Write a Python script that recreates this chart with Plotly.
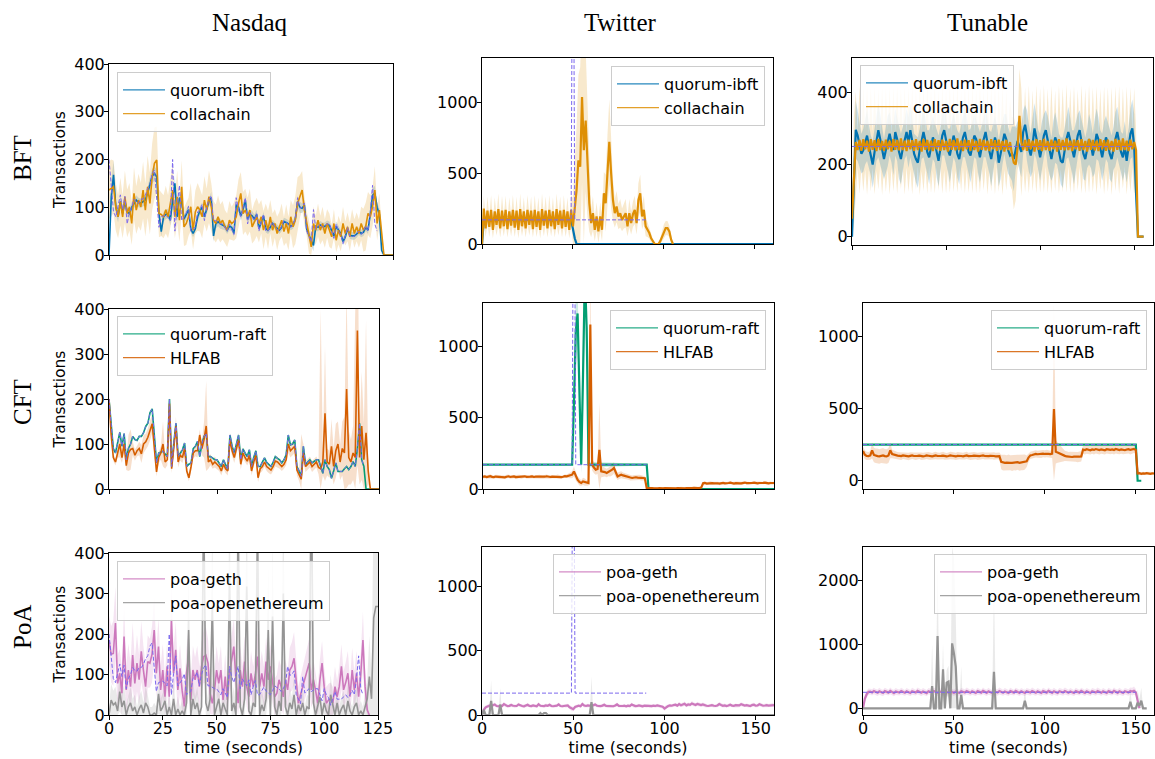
import plotly.graph_objects as go

W, H = 1155, 759

# ======================= DATA =======================
# ---- Nasdaq workload (sent rate, dashed) t = 0..118 s
nasdaq_workload = [200,140,90,80,105,126,95,123,65,90,
                   100,117,110,108,117,117,125,139,146,170,
                   178,120,58,80,82,84,78,72,200,50,
                   102,146,72,80,87,102,50,55,58,90,
                   95,106,72,100,117,124,72,72,68,65,
                   65,58,50,65,55,43,120,95,80,100,
                   120,65,89,80,72,87,50,70,85,50,
                   50,60,69,59,55,50,60,72,68,65,
                   58,65,76,120,98,100,109,50,40,28,
                   95,54,60,65,58,62,65,65,50,35,
                   65,50,43,24,40,58,39,39,39,45,
                   50,43,50,61,50,90,146,65,50]

# ---- Nasdaq BFT
nasdaq_ibft = [0,122,168,101,80,112,87,112,90,87,
               100,108,115,110,108,112,115,130,150,165,
               171,164,87,49,80,85,87,73,115,150,
               80,120,110,75,85,95,55,45,55,80,
               92,100,80,95,112,120,40,65,70,65,
               62,60,52,60,58,45,105,100,82,95,
               115,75,85,82,75,85,55,68,82,55,
               52,58,66,60,56,52,58,70,68,65,
               60,63,75,112,100,98,105,55,42,30,
               20,60,58,63,60,60,64,62,52,40,
               60,52,45,28,38,55,42,40,40,44,
               50,45,48,58,52,85,125,130,100,85,
               10,0,0,0,0,0]
nasdaq_ibft_sd = [5,30,30,15,12,12,10,12,10,10,
                  10,10,10,10,10,10,12,12,15,15,
                  15,15,12,10,10,10,10,10,12,15,
                  10,12,10,10,10,10,8,8,8,10,
                  10,10,10,10,10,12,12,10,10,10,
                  8,8,8,8,8,8,10,10,10,10,
                  10,10,10,10,10,10,8,8,8,8,
                  8,8,8,8,8,8,8,8,8,8,
                  8,8,10,12,12,10,10,10,10,10,
                  12,10,8,8,8,8,8,8,8,8,
                  10,8,8,8,8,8,8,8,8,8,
                  8,8,8,8,8,10,15,15,12,12,
                  8,0,0,0,0,0]
nasdaq_colla = [136,140,143,101,80,112,80,122,87,101,
                66,129,94,115,101,136,94,143,108,164,
                192,199,87,85,80,95,80,108,136,80,
                122,73,143,59,66,80,101,52,90,101,
                94,80,115,94,122,101,73,66,80,66,
                73,59,52,73,66,70,80,108,129,87,
                94,80,94,59,70,80,66,80,52,73,
                52,80,52,66,45,60,73,49,66,45,
                80,59,73,108,122,136,94,66,38,17,
                66,52,73,52,66,45,66,52,38,66,
                31,52,38,66,45,59,38,66,45,59,
                45,66,52,60,87,80,101,136,66,94,
                38,0,0,0,0,0]
nasdaq_colla_sd = [60,60,55,50,45,50,45,55,50,50,
                   45,55,50,55,50,60,55,65,65,70,
                   75,70,50,45,45,50,45,50,55,45,
                   55,45,55,40,45,40,50,40,45,50,
                   45,45,50,45,55,50,40,40,45,40,
                   40,35,35,40,35,40,45,50,45,45,
                   45,40,45,35,40,40,40,35,40,35,
                   40,35,35,30,35,30,35,30,40,35,
                   35,45,50,55,45,40,30,25,35,30,
                   35,30,35,30,35,30,30,35,25,30,
                   25,30,30,35,25,30,30,30,30,30,
                   30,35,45,50,45,45,40,50,35,35,
                   20,5,0,0,0,0]

# ---- Nasdaq CFT
nasdaq_raft = [200,140,90,80,105,126,95,123,65,90,
               100,117,110,108,117,117,125,139,146,170,
               178,120,58,80,82,84,78,72,200,50,
               102,146,72,80,87,102,50,55,58,90,
               95,106,72,100,117,124,72,72,68,65,
               65,58,50,65,55,43,120,95,80,100,
               120,65,89,80,72,87,50,70,85,50,
               50,60,69,59,55,50,60,72,68,65,
               58,65,76,120,98,100,109,50,40,28,
               95,54,60,65,58,62,65,65,50,35,
               65,50,43,24,40,58,39,39,39,45,
               50,43,50,61,50,90,146,65,50,0,
               0,0,0,0,0,0]
nasdaq_hlfab = [200,120,70,60,80,100,70,100,52,80,
                88,90,75,85,90,78,100,105,115,130,
                145,90,38,70,80,100,60,65,190,45,
                90,140,60,75,70,90,40,25,50,80,
                85,85,120,90,110,140,60,65,55,60,
                55,50,40,55,45,40,110,85,70,90,
                110,55,80,70,62,75,40,60,75,25,
                45,50,60,50,45,42,50,62,60,55,
                50,55,65,100,85,90,95,42,30,22,
                80,50,55,60,50,55,60,48,45,60,
                168,60,55,95,50,85,100,60,90,80,
                222,70,60,80,70,352,70,140,65,125,
                40,0,0,0,0,0]
nasdaq_hlfab_sd = [10,10,8,8,10,30,12,20,10,40,
                   45,15,12,12,15,20,20,18,20,22,
                   20,15,10,12,15,50,15,12,15,10,
                   15,20,12,12,12,15,10,8,10,12,
                   12,15,12,15,40,100,15,12,10,12,
                   10,10,10,10,10,10,15,12,12,12,
                   15,12,12,10,10,12,10,10,12,10,
                   10,10,10,10,10,10,10,12,12,10,
                   10,10,12,20,15,15,15,12,12,100,
                   20,12,12,12,12,12,12,15,355,30,
                   150,30,30,60,40,60,50,40,60,80,
                   220,60,50,60,330,300,60,120,80,250,
                   30,0,0,0,0,0]

# ---- Nasdaq PoA
nasdaq_geth = [185,150,152,227,78,103,54,194,62,111,
               70,148,78,128,87,157,110,70,132,128,
               150,210,103,169,62,111,45,120,45,235,
               103,161,62,115,60,21,103,144,37,111,
               87,111,70,120,144,148,128,54,29,60,
               111,78,111,37,95,37,103,140,169,87,
               29,111,70,132,70,45,103,70,100,144,
               70,103,70,132,87,120,80,45,54,87,
               70,45,87,62,111,120,140,87,29,50,
               70,87,111,128,62,87,60,29,87,128,
               70,29,37,40,29,70,45,70,120,62,
               80,103,45,111,62,103,45,100,185,70,
               12,0]
nasdaq_geth_sd = [60,70,80,90,70,60,60,80,60,65,
                  60,80,60,70,60,75,60,55,65,60,
                  70,80,60,70,60,65,55,60,55,90,
                  60,70,55,60,50,45,60,70,50,60,
                  55,60,50,60,65,70,60,50,45,50,
                  60,50,60,45,55,45,55,65,70,55,
                  45,60,50,65,50,45,55,50,55,65,
                  50,55,50,60,50,55,50,45,45,50,
                  50,45,50,45,55,60,65,50,40,45,
                  50,50,55,60,45,50,45,40,50,55,
                  45,40,40,40,40,50,40,50,55,45,
                  50,55,40,55,45,55,40,55,70,45,
                  20,0]
nasdaq_oe = [0,37,25,30,10,58,20,35,0,20,
             30,10,20,0,15,25,5,30,20,0,
             0,5,0,52,10,20,35,0,20,0,
             40,0,15,0,10,0,30,210,0,40,
             15,30,0,20,520,30,10,40,268,0,
             20,40,0,30,15,0,342,10,30,0,
             480,20,0,40,317,10,0,30,20,470,
             0,25,10,40,210,0,243,20,0,35,
             10,300,20,0,30,15,50,0,25,10,
             30,0,20,15,600,30,0,20,45,0,
             30,10,0,50,20,0,30,0,15,25,
             0,35,10,0,20,30,0,10,0,20,
             40,95,40,240,268,268]
nasdaq_oe_sd = [20,40,35,40,30,50,35,40,25,30,
                40,30,30,20,30,35,25,40,30,20,
                20,25,20,50,30,35,40,20,30,20,
                45,20,30,20,25,20,40,150,30,45,
                30,40,20,30,400,40,30,50,200,20,
                30,45,20,40,30,20,250,30,40,20,
                400,30,20,45,230,25,20,40,30,400,
                20,35,25,45,160,20,180,30,20,40,
                25,250,30,20,40,30,50,20,35,25,
                40,20,30,30,500,40,20,30,50,20,
                40,25,20,50,30,20,40,20,30,35,
                20,45,25,20,30,40,20,25,20,30,
                50,100,60,300,300,300]

# ---- Twitter workload (breakpoints)
twitter_wl_t = [0, 49, 50, 51, 90]
twitter_wl_v = [170, 170, 3000, 170, 170]

# ---- Twitter BFT
twitter_ibft_t = [0, 1, 49, 50, 51, 52, 160]
twitter_ibft_v = [0, 170, 170, 100, 40, 0, 0]
twitter_colla = [0,250,110,235,120,240,100,230,135,245,
                 110,235,125,240,105,230,130,240,115,235,
                 100,245,125,230,110,240,135,235,105,240,
                 120,230,100,245,130,235,110,240,125,230,
                 105,245,135,235,110,240,120,230,100,240,
                 124,250,380,590,545,1035,660,870,590,287,
                 147,217,100,194,89,194,100,357,287,521,
                 720,498,310,217,264,194,217,170,200,217,
                 124,217,147,210,240,147,310,357,194,240,
                 124,100,77,40,19,0,0,0,20,54,
                 89,112,112,89,30,0]
twitter_colla_sd = [0,90,60,100,70,105,60,100,75,110,
                    65,105,70,100,60,100,75,105,65,100,
                    60,110,70,100,65,105,75,100,60,105,
                    70,100,60,110,75,100,65,105,70,100,
                    60,110,75,100,65,105,70,100,60,105,
                    200,300,450,600,700,600,700,500,400,200,
                    100,120,80,100,80,100,80,150,200,250,
                    300,250,150,100,110,90,100,80,90,100,
                    70,100,80,90,100,80,120,130,90,100,
                    70,50,40,30,15,0,0,0,20,40,
                    50,50,50,40,20,0]

# ---- Twitter CFT
twitter_raft_t = [0, 49, 50, 51, 52, 53, 54, 55, 56, 57, 58, 90, 91, 160]
twitter_raft_v = [170, 170, 600, 1100, 1228, 600, 170, 800, 1500, 1130, 170, 170, 0, 0]
twitter_raft_sd = [5, 5, 150, 300, 200, 200, 60, 300, 300, 200, 20, 5, 0, 0]
twitter_hlfab = [85,88,84,86,90,85,83,87,86,84,
                 88,85,82,86,89,84,86,88,83,85,
                 87,84,86,89,85,83,86,88,84,86,
                 85,88,84,82,86,89,85,84,87,86,
                 84,88,85,83,86,90,88,92,95,100,
                 123,90,65,50,42,53,48,42,42,1150,
                 170,150,135,140,274,123,123,118,112,120,
                 123,135,147,110,88,95,100,95,90,88,
                 85,80,77,80,82,80,81,78,77,75,
                 7,5,4,6,5,3,5,6,4,5,
                 6,5,4,5,7,5,4,6,5,8,
                 6,5,7,5,4,6,8,5,6,7,
                 10,40,42,38,40,43,41,39,42,40,
                 38,41,43,40,39,42,44,40,38,41,
                 43,40,39,42,45,41,40,38,42,44,
                 41,39,42,40,43,45,41,39,42,40,
                 42]
twitter_hlfab_sd = [12,12,11,12,13,12,11,12,12,13,
                    12,11,12,13,12,12,11,12,13,12,
                    12,13,12,11,12,12,13,12,11,12,
                    13,12,12,11,12,13,12,12,11,12,
                    12,13,12,12,11,12,13,15,20,25,
                    35,30,25,25,20,25,25,20,20,400,
                    40,40,35,35,330,40,35,30,30,30,
                    35,40,40,30,25,25,25,20,20,20,
                    20,20,18,18,18,18,18,18,18,15,
                    8,8,7,8,9,8,7,8,8,9,
                    8,7,8,9,8,8,7,8,9,8,
                    8,9,8,7,8,8,9,8,7,8,
                    10,11,10,9,10,11,10,10,9,10,
                    11,10,9,10,10,11,10,9,10,11,
                    10,10,11,10,9,10,11,10,10,9,
                    10,11,10,10,9,10,11,10,10,9,
                    10]

# ---- Twitter PoA
twitter_geth = [0,40,60,68,72,70,75,82,70,68,
                72,70,85,74,69,71,78,72,68,70,
                82,73,70,68,72,80,71,69,74,70,
                68,84,72,70,69,75,72,80,70,68,
                71,73,82,70,68,72,70,74,60,50,
                45,62,70,72,68,85,73,70,74,72,
                70,75,82,72,70,69,73,80,71,70,
                72,70,68,74,82,71,69,70,72,68,
                73,70,82,72,69,70,74,71,68,72,
                70,73,71,69,72,70,74,71,68,65,
                50,62,70,74,72,78,80,73,85,76,
                80,88,75,82,79,90,84,78,86,80,
                77,82,75,72,70,73,76,72,70,74,
                85,78,72,75,70,74,80,73,71,76,
                72,74,84,78,73,76,72,70,78,80,
                72,74,83,76,72,74,77,73,75,78,
                76]
twitter_geth_sd = [5,20,15,14,13,12,14,16,12,13,
                   12,13,16,14,12,13,15,12,13,12,
                   16,13,12,13,12,15,12,13,14,12,
                   13,16,12,13,12,14,12,15,12,13,
                   12,13,16,12,13,12,13,14,15,18,
                   18,15,13,12,13,16,14,12,13,12,
                   13,14,16,12,13,12,13,15,12,13,
                   12,13,12,14,16,12,13,12,13,12,
                   14,12,16,13,12,13,14,12,13,12,
                   13,14,12,13,12,13,14,12,13,14,
                   18,15,13,14,12,15,16,13,17,14,
                   15,17,14,16,15,18,16,14,17,15,
                   14,16,14,13,12,13,14,13,12,14,
                   16,15,13,14,12,14,15,13,12,14,
                   13,14,16,15,13,14,13,12,15,15,
                   13,14,16,14,13,14,15,13,14,15,
                   14]
twitter_oe_t = [0,1,2,4,5,6,9,10,11,31,32,33,34,35,36,59,60,61,160]
twitter_oe_v = [0,40,0,0,110,0,0,80,0,0,15,0,15,15,0,0,100,0,0]
twitter_oe_sd = [0,30,0,0,160,0,0,130,0,0,10,0,10,10,0,0,200,0,0]

# ---- Tunable workload (breakpoints)
tunable_wl_t = [0, 150]
tunable_wl_v = [250, 250]

# ---- Tunable BFT
tunable_ibft = [0,150,296,280,255,230,240,265,280,250,
                225,200,235,270,295,270,240,215,240,265,
                285,260,240,290,270,235,215,245,270,290,
                260,295,265,230,215,205,240,270,290,265,
                235,220,250,275,260,230,210,245,280,295,
                265,240,225,255,280,260,230,215,250,275,
                290,265,235,225,255,280,270,240,220,250,
                275,290,260,235,215,245,275,255,205,230,
                260,285,270,240,225,230,215,245,265,250,
                235,290,310,280,245,225,255,300,275,240,
                220,250,280,295,265,235,215,245,275,260,
                230,210,205,240,270,290,265,235,220,250,
                280,295,260,230,215,245,270,255,225,250,
                285,270,240,220,250,275,260,230,215,245,
                270,290,260,235,220,250,210,245,285,300,
                250,120,0,0,0,0]
tunable_ibft_sd = [20,90,80,70,60,55,60,65,70,60,
                   55,65,70,60,75,70,60,55,65,70,
                   60,55,70,65,60,75,70,60,55,65,
                   70,75,60,55,65,70,60,55,70,65,
                   60,75,70,60,55,65,70,60,55,70,
                   65,60,75,70,60,55,65,70,60,55,
                   70,65,60,75,70,60,55,65,70,60,
                   55,70,65,60,75,70,60,55,65,70,
                   60,55,70,65,60,75,90,60,55,65,
                   70,60,55,70,65,60,75,70,60,55,
                   65,70,60,55,70,65,60,75,70,60,
                   55,65,70,60,55,70,65,60,75,70,
                   60,55,65,70,60,55,70,65,60,75,
                   70,60,55,65,70,60,55,70,65,60,
                   75,70,60,55,65,70,60,55,70,80,
                   90,40,0,0,0,0]
tunable_colla = [50,180,262,240,268,238,270,242,266,236,
                 270,241,267,237,271,240,265,238,269,242,
                 266,236,270,241,268,239,272,240,266,237,
                 269,242,267,238,270,240,265,236,271,241,
                 268,239,266,237,270,242,267,238,269,240,
                 265,236,271,241,268,239,272,240,266,237,
                 269,242,267,238,270,240,265,236,271,241,
                 268,239,266,237,270,242,267,238,269,240,
                 265,236,268,240,262,230,205,200,245,335,
                 262,240,268,238,270,242,266,236,270,241,
                 267,237,271,240,265,238,269,242,266,236,
                 270,241,268,239,272,240,266,237,269,242,
                 267,238,270,240,265,236,271,241,268,239,
                 266,237,270,242,267,238,269,240,265,236,
                 271,241,268,239,272,240,266,237,269,242,
                 262,240,0,0,0,0]
tunable_colla_sd = [100,150,140,50,150,45,145,55,150,50,
                    145,50,150,55,140,45,150,50,145,55,
                    150,45,145,50,150,55,140,50,150,45,
                    145,55,150,50,140,45,150,55,145,50,
                    150,45,145,55,150,50,140,45,150,55,
                    145,50,150,45,145,55,150,50,140,45,
                    150,55,145,50,150,45,145,55,150,50,
                    140,45,150,55,145,50,150,45,145,55,
                    150,50,140,45,120,100,130,100,60,130,
                    150,50,145,55,150,45,140,50,150,55,
                    145,50,150,45,145,55,150,50,140,45,
                    150,55,145,50,150,45,145,55,150,50,
                    140,45,150,55,145,50,150,45,145,55,
                    150,50,140,45,150,55,145,50,150,45,
                    145,55,150,50,140,45,150,55,145,50,
                    150,60,0,0,0,0]

# ---- Tunable CFT
tunable_raft_t = [0, 150, 151, 153]
tunable_raft_v = [250, 250, 0, 0]
tunable_hlfab = [205,180,172,170,175,210,178,172,170,168,
                 172,175,170,168,175,210,185,180,176,174,
                 172,170,175,173,170,168,172,175,171,169,
                 172,174,170,168,171,175,173,170,168,172,
                 175,171,169,172,174,170,168,171,175,173,
                 170,168,172,174,171,169,172,175,170,168,
                 171,174,172,169,170,173,175,171,168,170,
                 172,174,171,169,172,170,130,126,124,125,
                 127,124,123,126,125,128,124,126,127,130,
                 135,160,175,178,182,185,183,186,184,187,
                 185,188,186,184,187,495,200,195,188,182,
                 178,172,168,165,166,164,167,165,163,166,
                 168,215,212,218,214,210,216,213,219,215,
                 212,217,214,211,218,215,213,216,212,219,
                 215,212,217,214,211,216,218,213,215,220,
                 212,50,52,48,51,49,53,50,48,51,
                 50]
tunable_hlfab_sd = [30,30,28,28,30,55,50,50,52,50,
                    50,52,50,50,52,55,30,28,25,25,
                    25,26,25,24,25,26,25,24,25,26,
                    25,24,26,25,24,25,26,25,24,25,
                    26,25,24,25,26,25,24,25,26,25,
                    24,25,26,25,24,25,26,25,24,25,
                    26,25,24,25,26,25,24,25,26,25,
                    24,25,26,25,24,25,50,55,55,52,
                    55,52,55,53,55,52,55,53,55,52,
                    40,30,25,25,26,25,24,25,26,25,
                    25,26,25,24,30,720,80,70,60,50,
                    45,35,35,34,35,36,35,34,35,36,
                    35,30,30,31,30,29,30,31,30,29,
                    30,31,30,29,30,31,30,29,30,31,
                    30,29,30,31,30,29,30,31,30,29,
                    30,12,10,10,11,10,10,11,10,10,
                    10]

# ---- Tunable PoA
tunable_geth = [0,150,220,258,262,248,270,255,243,266,
                252,240,268,258,245,272,250,238,262,255,
                247,270,258,242,265,252,240,268,256,246,
                272,255,243,263,250,238,266,258,247,270,
                254,242,265,251,240,268,257,245,271,253,
                241,264,252,239,267,256,246,270,254,243,
                265,251,240,268,257,245,272,253,242,266,
                250,239,267,256,246,270,254,243,264,252,
                240,268,257,245,271,253,241,265,251,239,
                267,256,246,270,254,243,265,251,240,268,
                257,245,272,253,242,266,250,239,267,256,
                246,270,254,243,264,252,240,268,257,245,
                271,253,241,265,251,239,267,256,246,270,
                254,243,265,251,240,268,257,245,272,253,
                242,266,250,239,267,256,246,270,262,275,
                250,120,0]
tunable_geth_sd = [10,60,55,50,45,48,52,45,50,55,
                   46,50,54,47,45,52,48,50,55,46,
                   48,53,47,45,52,50,46,55,48,45,
                   52,47,50,54,46,48,52,45,50,55,
                   47,45,52,50,46,55,48,45,52,47,
                   50,54,46,48,52,45,50,55,47,45,
                   52,50,46,55,48,45,52,47,50,54,
                   46,48,52,45,50,55,47,45,52,50,
                   46,55,48,45,52,47,50,54,46,48,
                   52,45,50,55,47,45,52,50,46,55,
                   48,45,52,47,50,54,46,48,52,45,
                   50,55,47,45,52,50,46,55,48,45,
                   52,47,50,54,46,48,52,45,50,55,
                   47,45,52,50,46,55,48,45,52,47,
                   50,54,46,48,52,45,50,55,60,65,
                   50,30,0]
tunable_oe_t = [0,37,38,39,40,41,42,43,44,45,46,47,48,49,50,51,52,53,54,55,
                71,72,73,88,89,90,146,147,148,150,151,152,153,154,156]
tunable_oe_v = [0,0,348,0,0,1127,0,0,608,0,400,416,0,1013,857,650,0,0,208,0,
                0,571,0,0,120,0,0,104,0,0,88,40,120,0,0]
tunable_oe_sd = [0,0,650,0,0,1200,0,0,400,0,200,250,0,1500,1500,800,0,0,450,0,
                 0,1400,0,0,200,0,0,200,0,0,200,100,200,0,0]

# ======================= STYLE =======================
C_IBFT, C_COLLA = "#0173b2", "#de8f05"
C_RAFT, C_HLFAB = "#029e73", "#d55e00"
C_GETH, C_OE = "#cc78bc", "#949494"
C_WL = "#7b68ee"


def fx(px):
    return px / W


def fy(py):
    return 1 - py / H


def rgba(hexc, a):
    hexc = hexc.lstrip("#")
    r, g, b = int(hexc[0:2], 16), int(hexc[2:4], 16), int(hexc[4:6], 16)
    return f"rgba({r},{g},{b},{a})"


fig = go.Figure()


def ax(i):
    return ("x" if i == 1 else f"x{i}"), ("y" if i == 1 else f"y{i}")


def lg(i):
    return "legend" if i == 1 else f"legend{i}"


def add_band(i, t, y, sd, color, alpha=0.2):
    n = min(len(t), len(y), len(sd))
    t, y, sd = list(t[:n]), list(y[:n]), list(sd[:n])
    hi = [a + b for a, b in zip(y, sd)]
    lo = [max(0, a - b) for a, b in zip(y, sd)]
    xa, ya = ax(i)
    fig.add_trace(go.Scatter(x=t + t[::-1], y=hi + lo[::-1], fill="toself",
                             fillcolor=rgba(color, alpha), line=dict(width=0),
                             mode="lines", hoverinfo="skip", showlegend=False,
                             xaxis=xa, yaxis=ya))


def add_line(i, t, y, color, width=2.0):
    n = min(len(t), len(y))
    xa, ya = ax(i)
    fig.add_trace(go.Scatter(x=list(t[:n]), y=list(y[:n]), mode="lines",
                             line=dict(color=color, width=width),
                             showlegend=False, xaxis=xa, yaxis=ya))


def add_legend_entry(i, name, color):
    xa, ya = ax(i)
    fig.add_trace(go.Scatter(x=[None], y=[None], mode="lines",
                             line=dict(color=color, width=1.3), opacity=0.85,
                             name=name, showlegend=True, legend=lg(i),
                             xaxis=xa, yaxis=ya))


def add_wl(i, t, y):
    xa, ya = ax(i)
    fig.add_trace(go.Scatter(x=list(t), y=list(y), mode="lines",
                             line=dict(color=C_WL, width=1, dash="4px,2px"),
                             showlegend=False, hoverinfo="skip", xaxis=xa, yaxis=ya))


def sec(vals):
    return list(range(len(vals)))


# ---------- Row 1: BFT ----------
add_band(1, sec(nasdaq_ibft), nasdaq_ibft, nasdaq_ibft_sd, C_IBFT)
add_band(1, sec(nasdaq_colla), nasdaq_colla, nasdaq_colla_sd, C_COLLA)
add_line(1, sec(nasdaq_ibft), nasdaq_ibft, C_IBFT, 1.6)
add_line(1, sec(nasdaq_colla), nasdaq_colla, C_COLLA, 1.6)
add_wl(1, sec(nasdaq_workload), nasdaq_workload)

add_band(2, sec(twitter_colla), twitter_colla, twitter_colla_sd, C_COLLA)
add_line(2, twitter_ibft_t, twitter_ibft_v, C_IBFT, 2.2)
add_line(2, sec(twitter_colla), twitter_colla, C_COLLA, 2.2)
add_wl(2, twitter_wl_t, twitter_wl_v)

add_band(3, sec(tunable_colla), tunable_colla, tunable_colla_sd, C_COLLA)
add_band(3, sec(tunable_ibft), tunable_ibft, tunable_ibft_sd, C_IBFT)
add_line(3, sec(tunable_ibft), tunable_ibft, C_IBFT, 2.2)
add_line(3, sec(tunable_colla), tunable_colla, C_COLLA, 2.2)
add_wl(3, tunable_wl_t, tunable_wl_v)

# ---------- Row 2: CFT ----------
add_band(4, sec(nasdaq_hlfab), nasdaq_hlfab, nasdaq_hlfab_sd, C_HLFAB)
add_line(4, sec(nasdaq_raft), nasdaq_raft, C_RAFT, 1.6)
add_line(4, sec(nasdaq_hlfab), nasdaq_hlfab, C_HLFAB, 1.6)
add_wl(4, sec(nasdaq_workload), nasdaq_workload)

add_band(5, twitter_raft_t, twitter_raft_v, twitter_raft_sd, C_RAFT)
add_band(5, sec(twitter_hlfab), twitter_hlfab, twitter_hlfab_sd, C_HLFAB)
add_line(5, twitter_raft_t, twitter_raft_v, C_RAFT, 2.2)
add_line(5, sec(twitter_hlfab), twitter_hlfab, C_HLFAB, 2.2)
add_wl(5, twitter_wl_t, twitter_wl_v)

add_band(6, sec(tunable_hlfab), tunable_hlfab, tunable_hlfab_sd, C_HLFAB)
add_line(6, tunable_raft_t, tunable_raft_v, C_RAFT, 2.2)
add_line(6, sec(tunable_hlfab), tunable_hlfab, C_HLFAB, 2.2)
add_wl(6, tunable_wl_t, tunable_wl_v)

# ---------- Row 3: PoA ----------
add_band(7, sec(nasdaq_geth), nasdaq_geth, nasdaq_geth_sd, C_GETH)
add_band(7, sec(nasdaq_oe), nasdaq_oe, nasdaq_oe_sd, C_OE)
add_line(7, sec(nasdaq_geth), nasdaq_geth, C_GETH, 1.6)
add_line(7, sec(nasdaq_oe), nasdaq_oe, C_OE, 1.6)
add_wl(7, sec(nasdaq_workload), nasdaq_workload)

add_band(8, sec(twitter_geth), twitter_geth, twitter_geth_sd, C_GETH)
add_band(8, twitter_oe_t, twitter_oe_v, twitter_oe_sd, C_OE)
add_line(8, sec(twitter_geth), twitter_geth, C_GETH, 2.2)
add_line(8, twitter_oe_t, twitter_oe_v, C_OE, 2.2)
add_wl(8, twitter_wl_t, twitter_wl_v)

add_band(9, sec(tunable_geth), tunable_geth, tunable_geth_sd, C_GETH)
add_band(9, tunable_oe_t, tunable_oe_v, tunable_oe_sd, C_OE)
add_line(9, sec(tunable_geth), tunable_geth, C_GETH, 2.2)
add_line(9, tunable_oe_t, tunable_oe_v, C_OE, 2.2)
add_wl(9, tunable_wl_t, tunable_wl_v)

# legend entries (thin sample lines as in the reference)
legend_names = [
    [("quorum-ibft", C_IBFT), ("collachain", C_COLLA)],
    [("quorum-raft", C_RAFT), ("HLFAB", C_HLFAB)],
    [("poa-geth", C_GETH), ("poa-openethereum", C_OE)],
]
for i in range(1, 10):
    for name, col in legend_names[(i - 1) // 3]:
        add_legend_entry(i, name, col)

# ======================= LAYOUT =======================
panels = [
    dict(px=(109, 393, 64, 255), xr=[0, 125], yr=[0, 400], yt=[0, 100, 200, 300, 400], xt=[0, 25, 50, 75, 100, 125]),
    dict(px=(482, 773, 58, 244), xr=[0, 160], yr=[0, 1310], yt=[0, 500, 1000], xt=[0, 50, 100, 150]),
    dict(px=(852, 1153, 58, 245), xr=[0, 160], yr=[-23, 495], yt=[0, 200, 400], xt=[0, 50, 100, 150]),
    dict(px=(109, 379, 309, 489), xr=[0, 125], yr=[0, 400], yt=[0, 100, 200, 300, 400], xt=[0, 25, 50, 75, 100, 125]),
    dict(px=(483, 774, 303, 489), xr=[0, 160], yr=[0, 1301], yt=[0, 500, 1000], xt=[0, 50, 100, 150]),
    dict(px=(863, 1154, 303, 489), xr=[0, 160], yr=[-57, 1228], yt=[0, 500, 1000], xt=[0, 50, 100, 150]),
    dict(px=(109, 378, 553, 715), xr=[0, 125], yr=[0, 400], yt=[0, 100, 200, 300, 400], xt=[0, 25, 50, 75, 100, 125]),
    dict(px=(482, 774, 547, 715), xr=[0, 160], yr=[0, 1305], yt=[0, 500, 1000], xt=[0, 50, 100, 150]),
    dict(px=(863, 1154, 547, 715), xr=[0, 160], yr=[-104, 2517], yt=[0, 1000, 2000], xt=[0, 50, 100, 150]),
]
legend_pos = [  # (x px, top px, anchor)
    (117, 72, "left"), (765, 66, "right"), (860, 65, "left"),
    (117, 316, "left"), (766, 310, "right"), (1147, 310, "right"),
    (117, 561, "left"), (766, 554, "right"), (1147, 554, "right"),
]

tickfont = dict(family="DejaVu Sans", size=16, color="black")
layout = dict(width=W, height=H, margin=dict(l=0, r=0, t=0, b=0, autoexpand=False),
              plot_bgcolor="white", paper_bgcolor="white", showlegend=True)

for k, p in enumerate(panels):
    i = k + 1
    l, r, t, b = p["px"]
    sfx = "" if i == 1 else str(i)
    bottom = i >= 7
    xa = dict(domain=[fx(l), fx(r)], anchor="y" + sfx, range=p["xr"],
              tickvals=p["xt"], ticktext=[str(v) for v in p["xt"]],
              showticklabels=bottom, ticks="outside", ticklen=4, tickwidth=1,
              tickcolor="black", showline=True, mirror=True, linecolor="black",
              linewidth=1, showgrid=False, zeroline=False, tickfont=tickfont,
              automargin=False, ticklabelstandoff=-5)
    if bottom:
        xa["title"] = dict(text="time (seconds)", font=dict(family="DejaVu Sans", size=16, color="black"), standoff=0)
    ya = dict(domain=[fy(b), fy(t)], anchor="x" + sfx, range=p["yr"],
              tickvals=p["yt"], ticktext=[str(v) for v in p["yt"]],
              ticks="outside", ticklen=4, tickwidth=1, tickcolor="black",
              showline=True, mirror=True, linecolor="black", linewidth=1,
              showgrid=False, zeroline=False, tickfont=tickfont, automargin=False,
              ticklabelstandoff=-4)
    if i in (1, 4, 7):
        ya["title"] = dict(text="Transactions", font=dict(family="DejaVu Sans", size=15.5, color="black"), standoff=4)
    layout["xaxis" + sfx] = xa
    layout["yaxis" + sfx] = ya
    lx, ly, anc = legend_pos[k]
    layout[lg(i)] = dict(x=fx(lx), y=fy(ly), xanchor=anc, yanchor="top",
                         bgcolor="rgba(255,255,255,0.8)", bordercolor="#cccccc",
                         borderwidth=1, font=dict(family="DejaVu Sans", size=16, color="black"),
                         tracegroupgap=0, itemwidth=42)

fig.update_layout(**layout)

serif = dict(family="Liberation Serif", size=25, color="black")
for text, xp in [("Nasdaq", 249), ("Twitter", 620), ("Tunable", 987)]:
    fig.add_annotation(text=text, x=fx(xp), y=fy(22), xref="paper", yref="paper",
                       showarrow=False, font=serif, xanchor="center", yanchor="middle")
for text, yp in [("BFT", 158), ("CFT", 402), ("PoA", 627)]:
    fig.add_annotation(text=text, x=fx(22), y=fy(yp), xref="paper", yref="paper",
                       showarrow=False, font=serif, textangle=-90,
                       xanchor="center", yanchor="middle")

# the page's default 8px body margin would shift the figure; remove it
fig.write_html("out.html",
               config={"displayModeBar": False, "staticPlot": True},
               post_script=("document.body.style.margin='0px';"
                            "document.documentElement.style.overflow='hidden';"
                            "document.body.style.overflow='hidden';"))
